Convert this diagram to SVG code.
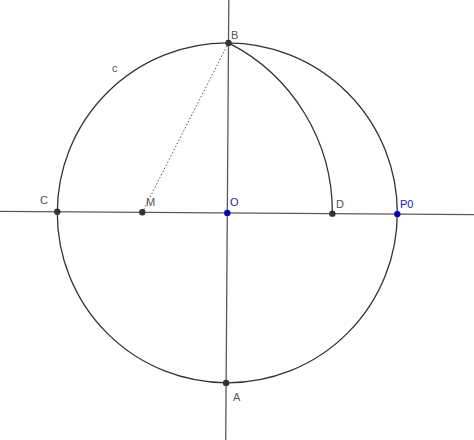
<svg xmlns="http://www.w3.org/2000/svg" width="474" height="440" viewBox="0 0 474 440">
<style>
.axis{stroke:#5a5a5a;stroke-width:1.3;fill:none}
.circ{stroke:#333;stroke-width:1.3;fill:none}
.dot{stroke:#555;stroke-width:1;fill:none;stroke-dasharray:1.5 2}
.pt{fill:#333}
.ptb{fill:#0000b0}
.lbl{font-family:"Liberation Sans",Arial,sans-serif;font-size:11px;fill:#555}
.lblb{font-family:"Liberation Sans",Arial,sans-serif;font-size:11px;fill:#2020c0}
</style>
<rect width="474" height="440" fill="#fff"/>
<g id="connectors">
<line class="axis" x1="0" y1="211.31" x2="474" y2="214.62"/>
<line class="axis" x1="228.79" y1="0" x2="225.71" y2="440"/>
<circle id="c" class="circ" cx="227.3" cy="212.9" r="170"/>
<path class="circ" d="M228.49,42.9 A190.07,190.07 0 0 1 332.37,213.64"/>
<line class="dot" x1="228.49" y1="42.9" x2="142.3" y2="212.31"/>
</g>
<g id="label-c"><text class="lbl" x="112" y="72">c</text></g>
<g id="B"><circle class="pt" cx="228.49" cy="42.9" r="3.2"/><text class="lbl" x="231" y="39">B</text></g>
<g id="C"><circle class="pt" cx="57.3" cy="211.71" r="3.2"/><text class="lbl" x="40" y="204">C</text></g>
<g id="M"><circle class="pt" cx="142.3" cy="212.31" r="3.2"/><text class="lbl" x="146" y="206">M</text></g>
<g id="O"><circle class="ptb" cx="227.3" cy="212.9" r="3.2"/><text class="lblb" x="230" y="206">O</text></g>
<g id="D"><circle class="pt" cx="332.37" cy="213.64" r="3.2"/><text class="lbl" x="336" y="208">D</text></g>
<g id="P0"><circle class="ptb" cx="397.3" cy="214.09" r="3.2"/><text class="lblb" x="400" y="208">P0</text></g>
<g id="A"><circle class="pt" cx="226.11" cy="382.9" r="3.2"/><text class="lbl" x="233" y="401">A</text></g>
</svg>
